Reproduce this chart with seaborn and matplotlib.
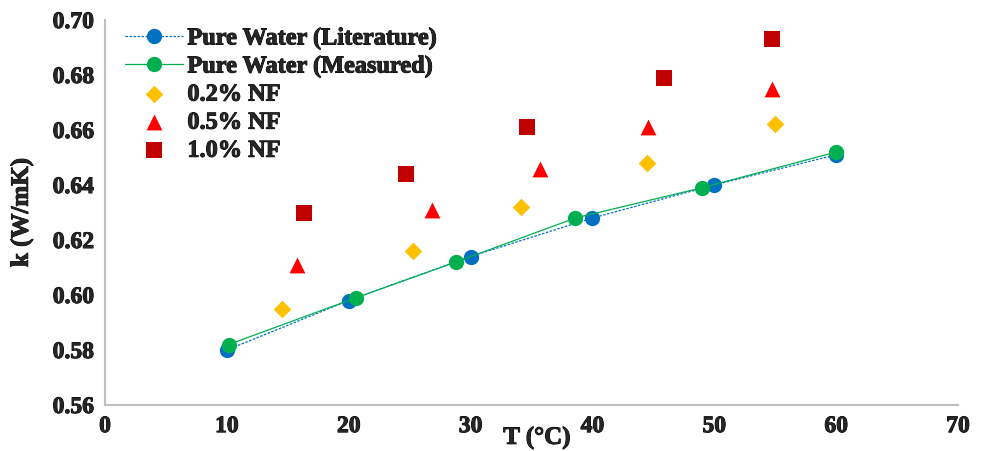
import numpy as np
import pandas as pd
import matplotlib
matplotlib.use("Agg")
import matplotlib.pyplot as plt
import matplotlib.patheffects as pe
import seaborn as sns
from matplotlib.ticker import MultipleLocator

# Data
lit_T = [10, 20, 30, 40, 50, 60]
lit_k = [0.580, 0.598, 0.614, 0.628, 0.640, 0.651]
meas_T = [10.15, 20.6, 28.8, 38.6, 49.0, 60.0]
meas_k = [0.582, 0.599, 0.612, 0.628, 0.639, 0.652]
nf02_T = [14.5, 25.3, 34.1, 44.5, 55.0]
nf02_k = [0.595, 0.616, 0.632, 0.648, 0.662]
nf05_T = [15.75, 26.8, 35.7, 44.6, 54.7]
nf05_k = [0.611, 0.631, 0.646, 0.661, 0.675]
nf10_T = [16.3, 24.7, 34.6, 45.9, 54.7]
nf10_k = [0.630, 0.644, 0.661, 0.679, 0.693]
x_ticks = [0, 10, 20, 30, 40, 50, 60, 70]
y_ticks = [0.56, 0.58, 0.60, 0.62, 0.64, 0.66, 0.68, 0.70]

sns.set_style("white")
plt.rcParams['font.family'] = ['Liberation Serif', 'DejaVu Serif']
plt.rcParams['font.weight'] = 'bold'

fig = plt.figure(figsize=(9.85, 4.52), dpi=100)
ax = fig.add_axes([105/985, 1-406/452, (958-105)/985, (406-21)/452])

sns.lineplot(x=lit_T, y=lit_k, ax=ax, color='#0070C0', linestyle=(0, (2, 1.2)), linewidth=0.9,
             marker='o', markersize=11, markeredgewidth=0, label='Pure Water (Literature)')
sns.lineplot(x=meas_T, y=meas_k, ax=ax, color='#00B050', linestyle='-', linewidth=0.9,
             marker='o', markersize=11, markeredgewidth=0, label='Pure Water (Measured)')
sns.scatterplot(x=nf02_T, y=nf02_k, ax=ax, color='#FFC000', marker='D', s=80, linewidth=0,
                label='0.2% NF')
sns.scatterplot(x=nf05_T, y=nf05_k, ax=ax, color='#FF0000', marker='^', s=130, linewidth=0,
                label='0.5% NF')
sns.scatterplot(x=nf10_T, y=nf10_k, ax=ax, color='#C00000', marker='s', s=130, linewidth=0,
                label='1.0% NF')

ax.set_xlim(0, 70)
ax.set_ylim(0.56, 0.70)
ax.set_xticks(x_ticks)
ax.set_yticks(y_ticks)
ax.set_xticklabels([str(t) for t in x_ticks])
ax.set_yticklabels([f"{t:.2f}" for t in y_ticks])
ax.xaxis.set_minor_locator(MultipleLocator(2))
ax.yaxis.set_minor_locator(MultipleLocator(0.004))

gray = '#BFBFBF'
for s in ['top', 'right']:
    ax.spines[s].set_visible(False)
for s in ['left', 'bottom']:
    ax.spines[s].set_color(gray)
    ax.spines[s].set_linewidth(1.5)

ax.tick_params(axis='both', which='major', direction='inout', length=12, width=1.2,
               color=gray, labelsize=17, pad=2)
ax.tick_params(axis='x', which='minor', direction='out', length=5, width=1, color=gray)
ax.tick_params(axis='y', which='minor', direction='in', length=6, width=1, color=gray)

thick = [pe.withStroke(linewidth=0.7, foreground='black')]
for lab in ax.get_xticklabels() + ax.get_yticklabels():
    lab.set_fontweight('bold')
    lab.set_path_effects(thick)

ax.set_xlabel('T (°C)', fontsize=18, fontweight='bold', labelpad=0, path_effects=thick)
ax.xaxis.set_label_coords((537-105)/(958-105), -0.055)
ax.set_ylabel('k (W/mK)', fontsize=18, fontweight='bold', labelpad=14, path_effects=thick)

leg = ax.legend(loc='upper left', bbox_to_anchor=(0.004, 1.025), frameon=False,
                prop={'family': 'Liberation Serif', 'weight': 'bold', 'size': 17.5},
                handlelength=2.35, handletextpad=0.2, labelspacing=0.25, borderaxespad=0.3)
for t in leg.get_texts():
    t.set_path_effects(thick)

fig.savefig('out.png', dpi=100)
